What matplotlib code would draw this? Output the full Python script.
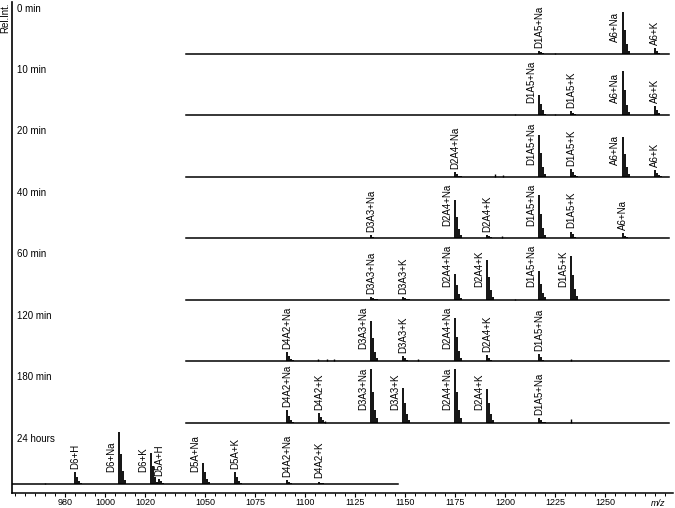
import matplotlib.pyplot as plt
import matplotlib.transforms as mtransforms

plt.rcParams['font.family'] = ['Liberation Sans', 'DejaVu Sans']

# ion m/z values
ion_mz = {'D6+H': 985, 'D6+Na': 1007, 'D6+K': 1023, 'D5A+H': 1027,
          'D5A+Na': 1049, 'D5A+K': 1065, 'D4A2+Na': 1091, 'D4A2+K': 1107,
          'D3A3+Na': 1133, 'D3A3+K': 1149, 'D2A4+Na': 1175, 'D2A4+K': 1191,
          'D1A5+Na': 1217, 'D1A5+K': 1233, 'A6+Na': 1259, 'A6+K': 1275}

times = ['0 min', '10 min', '20 min', '40 min', '60 min', '120 min', '180 min', '24 hours']
spec_start = [1040.5, 1040.5, 1040.5, 1040.5, 1040.5, 1040.5, 1040.5, 953.5]
spec_end = [1282, 1282, 1282, 1282, 1282, 1282, 1282, 1146.5]

# labelled peaks of each spectrum, heights in units of row spacing
peak_names = [
    ['D1A5+Na', 'A6+Na', 'A6+K'],
    ['D1A5+Na', 'D1A5+K', 'A6+Na', 'A6+K'],
    ['D2A4+Na', 'D1A5+Na', 'D1A5+K', 'A6+Na', 'A6+K'],
    ['D3A3+Na', 'D2A4+Na', 'D2A4+K', 'D1A5+Na', 'D1A5+K', 'A6+Na'],
    ['D3A3+Na', 'D3A3+K', 'D2A4+Na', 'D2A4+K', 'D1A5+Na', 'D1A5+K'],
    ['D4A2+Na', 'D3A3+Na', 'D3A3+K', 'D2A4+Na', 'D2A4+K', 'D1A5+Na'],
    ['D4A2+Na', 'D4A2+K', 'D3A3+Na', 'D3A3+K', 'D2A4+Na', 'D2A4+K', 'D1A5+Na'],
    ['D6+H', 'D6+Na', 'D6+K', 'D5A+H', 'D5A+Na', 'D5A+K', 'D4A2+Na', 'D4A2+K'],
]
peak_h = [
    [0.05, 0.68, 0.10],
    [0.34, 0.07, 0.72, 0.15],
    [0.08, 0.68, 0.13, 0.65, 0.11],
    [0.05, 0.62, 0.06, 0.70, 0.11, 0.08],
    [0.05, 0.05, 0.42, 0.65, 0.46, 0.72],
    [0.15, 0.65, 0.08, 0.70, 0.10, 0.11],
    [0.20, 0.15, 0.88, 0.57, 0.88, 0.55, 0.07],
    [0.20, 0.85, 0.50, 0.08, 0.34, 0.20, 0.07, 0.04],
]

# small unlabelled peaks
small_mz = [[1225], [1205, 1225], [1195, 1199], [1198.5], [1205],
            [1106.5, 1111, 1114.5, 1156.5, 1233], [1110, 1233], [970]]
small_h = [[0.02], [0.02, 0.02], [0.04, 0.03], [0.04], [0.02],
           [0.03, 0.03, 0.03, 0.03, 0.03], [0.02, 0.05], [0.02]]

# isotope cluster pattern (relative heights at +0, +1, +2, +3)
iso_rel = [1.0, 0.57, 0.24, 0.08]

major_ticks = [980, 1000, 1020, 1050, 1075, 1100, 1125, 1150, 1175, 1200, 1225, 1250]

fig = plt.figure(figsize=(6.75, 5.08), dpi=100)
ax = fig.add_axes([0.0178, 0.0295, 0.979, 0.9665])

n = len(times)
for i in range(n):
    base = n - 1 - i
    ax.plot([spec_start[i], spec_end[i]], [base, base], color='black', lw=1.1)
    for mz, h in zip(small_mz[i], small_h[i]):
        ax.vlines(mz, base, base + h, color='black', lw=1.0)
    for name, h in zip(peak_names[i], peak_h[i]):
        mz = ion_mz[name]
        for k, r in enumerate(iso_rel):
            ax.vlines(mz + k, base, base + h * r, color='black', lw=1.3)
        if h > 0.25:
            ax.text(mz - 1.2, base + 0.2, name, rotation=90, ha='right', va='bottom', fontsize=7)
        else:
            ax.text(mz, base + h + 0.05, name, rotation=90, ha='center', va='bottom', fontsize=7)
    ax.text(0.008, base + 0.74, times[i], transform=mtransforms.blended_transform_factory(ax.transAxes, ax.transData),
            ha='left', va='center', fontsize=7)

ax.set_xlim(953.5, 1284)
ax.set_ylim(-0.147, 7.847)

ax.set_xticks(major_ticks)
ax.set_xticks(range(955, 1285, 5), minor=True)
ax.tick_params(axis='x', which='major', length=3, width=0.8, pad=0.8, labelsize=6.5)
ax.tick_params(axis='x', which='minor', length=2, width=0.7)
ax.set_yticks([])
ax.set_ylabel('Rel.Int.', loc='top', fontsize=7, labelpad=1)

ax.spines['top'].set_visible(False)
ax.spines['right'].set_visible(False)
ax.spines['left'].set_linewidth(1.2)
ax.spines['bottom'].set_linewidth(1.1)

ax.annotate('m/z', xy=(1276.5, 0), xycoords=('data', 'axes fraction'), xytext=(0, -4.3),
            textcoords='offset points', ha='center', va='top', fontsize=6.5, style='italic')

plt.savefig('out.png', dpi=100)
